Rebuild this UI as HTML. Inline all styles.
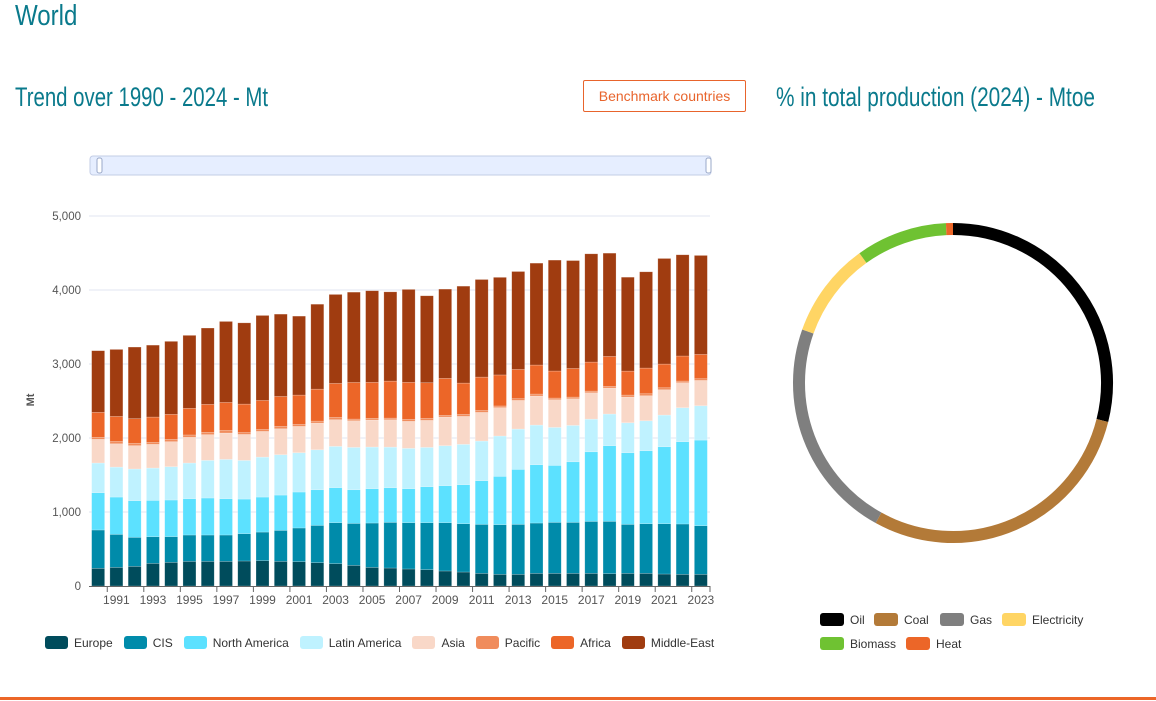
<!DOCTYPE html>
<html><head><meta charset="utf-8">
<style>
body{margin:0;width:1156px;height:701px;background:#fff;position:relative;overflow:hidden;font-family:"Liberation Sans",sans-serif}
.h{position:absolute;color:#0a7a8c;font-family:"Liberation Sans",sans-serif;white-space:nowrap;transform:scaleX(0.76);transform-origin:0 0}
</style></head><body>
<div class="h" style="left:15px;top:0px;font-size:29px;transform:scaleX(0.83)">World</div>
<div class="h" style="left:15px;top:82px;font-size:27px;transform:scaleX(0.755)">Trend over 1990 - 2024 - Mt</div>
<div style="position:absolute;left:583px;top:80px;width:161px;height:30px;border:1px solid #e8642c;border-radius:2px;color:#e8642c;font-size:14px;line-height:30px;text-align:center">Benchmark countries</div>
<div class="h" style="left:776px;top:82px;font-size:27px;transform:scaleX(0.77)">% in total production (2024) - Mtoe</div>
<div style="position:absolute;left:0;top:697px;width:1156px;height:3px;background:#ec6628"></div>
<svg id="bar" width="740" height="701" style="position:absolute;left:0;top:0">
<rect x="90" y="156" width="621" height="19" rx="3" fill="#e6eeff" stroke="#c3cde6"/>
<rect x="97" y="158" width="5" height="15" rx="2" fill="#fff" stroke="#9aa8c8"/>
<rect x="706" y="158" width="5" height="15" rx="2" fill="#fff" stroke="#9aa8c8"/>
<text x="34" y="400" transform="rotate(-90 34 400)" text-anchor="middle" font-size="11" font-weight="bold" fill="#555">Mt</text>
<g id="grid"></g><g id="bars"></g><g id="xax"></g>
</svg>
<svg id="pie" width="420" height="701" style="position:absolute;left:740px;top:0"><g id="arcs"></g><g id="pleg"></g></svg>
<div id="leg" style="position:absolute;left:45px;top:636px;font-size:12px;color:#333;white-space:nowrap"></div>
<script>
const years=[];for(let y=1990;y<=2023;y++)years.push(y);
const europe=[239,252,266,306,320,333,333,333,338,342,333,329,315,302,279,252,243,230,221,203,189,171,158,158,171,171,171,171,167,171,171,162,158,158];
const cis=[518,446,392,360,347,356,356,356,369,387,419,455,504,554,567,599,617,626,635,653,653,662,671,675,680,689,689,702,707,662,671,680,680,657];
const northAmerica=[504,504,495,491,495,491,500,491,468,473,477,486,482,473,455,464,468,459,486,500,527,590,653,743,788,770,819,941,1022,968,986,1040,1112,1157];
const latinAmerica=[401,405,428,437,450,482,509,531,522,540,545,531,540,558,572,563,549,545,531,540,545,536,545,545,536,513,491,441,428,405,405,428,459,464];
const asia=[320,315,315,320,338,347,347,356,351,347,351,356,360,360,360,365,369,365,365,387,378,387,383,387,392,374,360,356,351,347,338,342,338,342];
const pacific=[27,32,32,27,32,32,32,36,27,27,32,27,27,32,23,23,23,27,27,23,27,27,23,23,27,23,23,23,23,27,27,27,23,23];
const africa=[338,338,333,342,338,360,378,378,383,392,405,396,432,459,495,486,500,500,482,500,423,450,419,396,392,365,387,392,405,324,347,320,338,329];
const middleEast=[833,905,968,972,986,986,1031,1094,1098,1148,1112,1067,1148,1202,1220,1238,1206,1256,1175,1206,1310,1319,1319,1323,1377,1499,1458,1463,1395,1269,1301,1427,1368,1337];
const seriesNames=["Europe","CIS","North America","Latin America","Asia","Pacific","Africa","Middle-East"];
const yTicks=[0,1000,2000,3000,4000,5000];
const pieLabels=["Oil","Coal","Gas","Electricity","Biomass","Heat"];
const pieValues=[28.8,29.0,22.3,9.6,9.2,0.7];
const NS="http://www.w3.org/2000/svg";
const series=[europe,cis,northAmerica,latinAmerica,asia,pacific,africa,middleEast];
const colors=["#004c5c","#008baa","#5ce1ff","#bff2ff","#f9d8c8","#f08c5c","#ec6628","#a03c10"];
const x0=89,x1=710,y0=586,yMax=5000,yTop=216;
const bw=(x1-x0)/years.length;
const ys=v=>y0-(v/yMax)*(y0-yTop);
const xs=i=>x0+bw*i+bw/2;
function mk(t,a,p){const e=document.createElementNS(NS,t);for(const k in a)e.setAttribute(k,a[k]);p.appendChild(e);return e;}
const grid=document.getElementById('grid');
yTicks.forEach(t=>{
 if(t>0){const l=mk('line',{x1:x0,x2:x1,y1:ys(t),y2:ys(t),stroke:'#e0e4f0'},grid);
 
 }
 const tx=mk('text',{x:81,y:ys(t)+4,'text-anchor':'end','font-size':11.5,fill:'#555'},grid);
 tx.textContent=t.toLocaleString('en-US');
 
 
});
const bars=document.getElementById('bars');
years.forEach((yr,i)=>{
 let c=0;
 series.forEach((s,k)=>{
  const v=s[i];const r=mk('rect',{x:xs(i)-6.5,y:ys(c+v),width:13,height:ys(c)-ys(c+v),fill:colors[k],stroke:'rgba(255,255,255,0.35)','stroke-width':0.6},bars);
  
  
  c+=v;
 });
});
const xax=document.getElementById('xax');
const ax=mk('line',{x1:x0,x2:x1,y1:y0+0.5,y2:y0+0.5,stroke:'#666'},xax);


years.forEach((yr,i)=>{
 if(yr%2===1){
  mk('line',{x1:x0+bw*i,x2:x0+bw*i,y1:y0,y2:y0+6,stroke:'#666'},xax);
  const t=mk('text',{x:xs(i),y:604,'text-anchor':'middle','font-size':12,fill:'#555'},xax);
  t.textContent=yr;
  
  
 }
});
mk('line',{x1:x1,x2:x1,y1:y0,y2:y0+6,stroke:'#666'},xax);
const leg=document.getElementById('leg');
seriesNames.forEach((n,k)=>{
 const s=document.createElement('span');
 s.style.cssText='display:inline-block;margin-right:11px';
 s.innerHTML='<span style="display:inline-block;width:23px;height:13px;border-radius:3px;vertical-align:-2px;margin-right:6px;background:'+colors[k]+'"></span>'+n;
 
 
 leg.appendChild(s);
});
const pcol=["#000000","#b37a38","#7f7f7f","#ffd564","#6fc232","#ec6628"];
const cx=213,cy=383,R=154;
const arcs=document.getElementById('arcs');
const tot=pieValues.reduce((a,b)=>a+b,0);
let a0=0;
pieValues.forEach((v,k)=>{
 const a1=a0+v/tot*2*Math.PI;
 const p=(a)=>[cx+R*Math.sin(a),cy-R*Math.cos(a)];
 const [sx,sy]=p(a0),[ex,ey]=p(a1);
 const el=mk('path',{d:`M${sx} ${sy}A${R} ${R} 0 ${a1-a0>Math.PI?1:0} 1 ${ex} ${ey}`,fill:'none',stroke:pcol[k],'stroke-width':12},arcs);
 
 
 a0=a1;
});
const pleg=document.getElementById('pleg');
const pos=[[80,620],[134,620],[200,620],[262,620],[80,644],[166,644]];
pieLabels.forEach((n,k)=>{
 const g=mk('g',{},pleg);
 
 
 mk('rect',{x:pos[k][0],y:pos[k][1]-7,width:24,height:13,rx:3,fill:pcol[k]},g);
 const t=mk('text',{x:pos[k][0]+30,y:pos[k][1]+4,'font-size':12,fill:'#333'},g);
 t.textContent=n;
});
</script>
</body></html>
